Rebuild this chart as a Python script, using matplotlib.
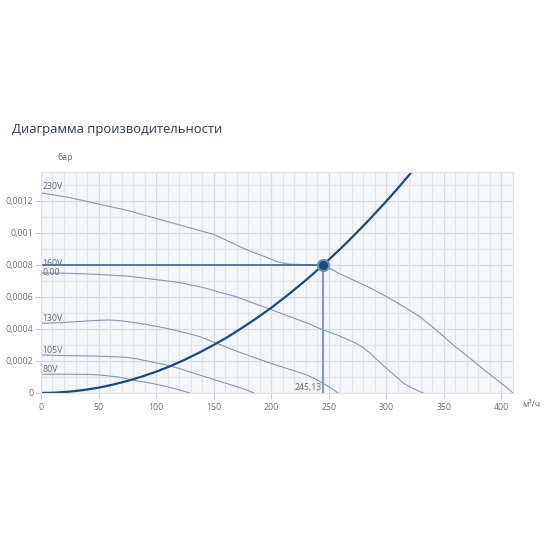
import matplotlib
matplotlib.use("Agg")
import matplotlib.pyplot as plt
from matplotlib.ticker import MultipleLocator, FuncFormatter

plt.rcParams['font.family'] = ['Open Sans', 'DejaVu Sans']

# fan curves (расход м3/ч, давление бар)
v230_x = [0, 25, 50, 75, 100, 125, 150, 165, 180, 195, 205, 215, 230, 245, 258, 271, 285, 300,
          315, 329, 344, 358, 372, 387, 400, 410]
v230_y = [0.00125, 0.00122, 0.00118, 0.00114, 0.00109, 0.00104, 0.00099, 0.00094, 0.00089, 0.00085,
          0.00082, 0.000805, 0.000801, 0.0008, 0.00075, 0.000706, 0.00066, 0.000602, 0.00054,
          0.000477, 0.00039, 0.0003, 0.00022, 0.000133, 0.00006, 0.0]

v160_x = [0, 25, 50, 75, 100, 120, 140, 155, 170, 185, 200, 215, 230, 245, 258, 271, 279, 286,
          293, 300, 308, 315, 324, 332]
v160_y = [0.00075, 0.000747, 0.00074, 0.00073, 0.000708, 0.00069, 0.00066, 0.00063, 0.0006,
          0.00056, 0.00052, 0.00048, 0.00044, 0.000394, 0.00036, 0.00032, 0.000288, 0.000248,
          0.0002, 0.000155, 0.000105, 0.00006, 0.000025, 0.0]

v130_x = [0, 20, 40, 59, 71, 90, 109, 123, 138, 152, 167, 185, 204, 218, 231, 238, 245, 252, 258]
v130_y = [0.000435, 0.00044, 0.00045, 0.000456, 0.00045, 0.00043, 0.000404, 0.00038, 0.000352,
          0.000312, 0.000269, 0.000222, 0.000175, 0.000143, 0.000112, 0.000088, 0.00006,
          0.00003, 0.0]

v105_x = [0, 25, 50, 74, 84, 92, 100, 109, 120, 130, 141, 152, 161, 170, 178, 185]
v105_y = [0.000237, 0.000233, 0.00023, 0.000223, 0.000213, 0.0002, 0.000188, 0.000175, 0.000153,
          0.00013, 0.000105, 0.00008, 0.00006, 0.00004, 0.00002, 0.0]

v80_x = [0, 20, 42, 50, 58, 67, 80, 95, 109, 120, 129]
v80_y = [0.000117, 0.000117, 0.000116, 0.000113, 0.000107, 0.0001, 0.00008, 0.000062, 0.00004,
         0.00002, 0.0]

# сеть (system curve)
sys_x = [0, 12.5, 25, 37.5, 50, 62.5, 75, 87.5, 100, 112.5, 125, 137.5, 150, 162.5, 175, 187.5,
         200, 212.5, 225, 235, 245.13, 252.5, 260, 267.5, 275, 282.5, 290, 297.5, 305, 313.5, 322]
sys_y = [0.0, 0.0000021, 0.0000083, 0.0000187, 0.000033, 0.000052, 0.000075, 0.000102, 0.000133,
         0.000168, 0.000208, 0.000252, 0.0003, 0.000351, 0.000408, 0.000468, 0.000532, 0.000601,
         0.000674, 0.000735, 0.0008, 0.000849, 0.0009, 0.000952, 0.001007, 0.001062, 0.00112,
         0.001178, 0.001238, 0.001308, 0.00138]

work_q = 245.13
work_p = 0.0008

curve_labels = ["230V", "160V", "0,00", "130V", "105V", "80V"]
label_y = [0.00126, 0.000782, 0.000778, 0.000437, 0.000239, 0.000119]
label_va = ['bottom', 'bottom', 'top', 'bottom', 'bottom', 'bottom']

curve_col = '#8797b0'
text_col = '#666b73'

fig = plt.figure(figsize=(5.5, 5.5), dpi=100)
ax = fig.add_axes([0.0745, 0.2855, 0.8582, 0.4018])
ax.set_facecolor('#f4f6f9')

ax.set_xlim(0, 410)
ax.set_ylim(0, 0.00138)
ax.xaxis.set_major_locator(MultipleLocator(50))
ax.xaxis.set_minor_locator(MultipleLocator(10))
ax.yaxis.set_major_locator(MultipleLocator(0.0002))
ax.yaxis.set_minor_locator(MultipleLocator(0.0001))
ax.grid(which='major', color='#d8dce2', lw=0.9)
ax.grid(which='minor', color='#e1e5ea', lw=0.8)
ax.set_axisbelow(True)
for s in ax.spines.values():
    s.set_color('#dfe3e8')
    s.set_linewidth(0.8)

def fmt_y(v, pos):
    if abs(v) < 1e-12:
        return "0"
    return ("%g" % v).replace(".", ",")

ax.yaxis.set_major_formatter(FuncFormatter(fmt_y))
ax.tick_params(which='major', labelsize=6.3, colors='#c8ccd2', labelcolor='#6a6f77', length=4, width=0.8)
ax.tick_params(axis='y', which='major', pad=1.5)
ax.tick_params(which='minor', length=0)

for xs, ys in [(v230_x, v230_y), (v160_x, v160_y), (v130_x, v130_y), (v105_x, v105_y), (v80_x, v80_y)]:
    ax.plot(xs, ys, color=curve_col, lw=0.8)

ax.plot([0, work_q], [work_p, work_p], color='#3f6691', lw=1.2)
ax.plot([work_q, work_q], [work_p, 0], color='#7f9dc4', lw=1.5)
ax.plot(sys_x, sys_y, color='#1e4a78', lw=1.6)
ax.plot([work_q], [work_p], 'o', ms=8, color='#1e4a78', mec='#6a8fbf', mew=1.5, zorder=5)

for txt, yv, va in zip(curve_labels, label_y, label_va):
    ax.text(1.5, yv, txt, fontsize=6.3, color=text_col, va=va, ha='left')
ax.text(work_q - 1, 0.000008, ("%.2f" % work_q).replace(".", ","), fontsize=6.3, color=text_col,
        ha='right', va='bottom')

fig.text(0.022, 0.764, "Диаграмма производительности", fontsize=9.4, color='#2f3c4e', va='center')
fig.text(0.104, 0.714, "бар", fontsize=6.3, color=text_col, va='center')
fig.text(0.949, 0.265, "м³/ч", fontsize=6.3, color=text_col, va='center')

fig.savefig("out.png", dpi=100, facecolor='white')
